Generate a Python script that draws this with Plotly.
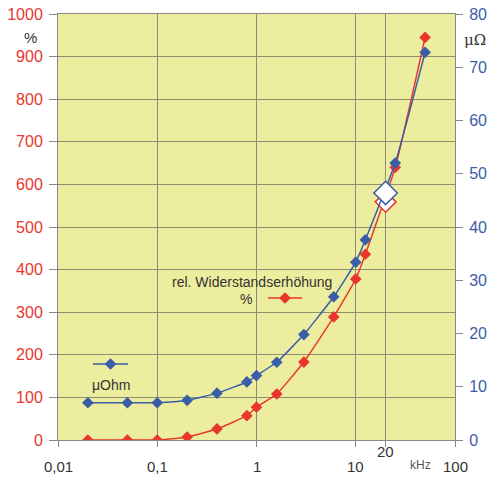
import plotly.graph_objects as go

freq_khz = [0.02, 0.05, 0.1, 0.2, 0.4, 0.8, 1, 1.6, 3, 6, 10, 12.5, 25, 50]
res_uohm = [7.0, 7.0, 7.0, 7.45, 8.8, 10.9, 12.1, 14.6, 19.8, 26.9, 33.4, 37.6, 52.0, 72.8]
rel_pct = [0, 0, 0, 7, 26, 57, 77, 108, 183, 289, 378, 436, 640, 945]

mark_freq = [20]
mark_uohm = [46.4]
mark_pct = [559]

x_tick_vals = [0.01, 0.1, 1, 10, 100]
x_tick_text = ["0,01", "0,1", "1", "10", "100"]
y_left_ticks = list(range(0, 1001, 100))
y_right_ticks = list(range(0, 81, 10))

BLUE = "#3A5DA8"
RED = "#E8362E"
GRID = "#8E8E70"
FONT = "Liberation Sans, Arial, sans-serif"

W, H = 491, 477
PL, PR, PT, PB = 58, 455, 14, 440          # plot area on screen
L, R, T, B = PL, W - PR, PT, H - PB


def px(x):
    return (x - PL) / (PR - PL)


def py(y):
    return (PB - y) / (PB - PT)


fig = go.Figure()

fig.add_trace(go.Scatter(
    x=freq_khz, y=rel_pct, mode="lines+markers",
    line=dict(color=RED, width=1.5, shape="spline", smoothing=0.4),
    marker=dict(symbol="diamond", size=9, color=RED),
    yaxis="y", showlegend=False))
fig.add_trace(go.Scatter(
    x=freq_khz, y=res_uohm, mode="lines+markers",
    line=dict(color=BLUE, width=1.5, shape="spline", smoothing=0.4),
    marker=dict(symbol="diamond", size=9, color=BLUE),
    yaxis="y2", showlegend=False))
fig.add_trace(go.Scatter(
    x=mark_freq, y=mark_pct, mode="markers",
    marker=dict(symbol="diamond", size=16, color="white", line=dict(color=RED, width=1.5)),
    yaxis="y", showlegend=False))
fig.add_trace(go.Scatter(
    x=mark_freq, y=mark_uohm, mode="markers",
    marker=dict(symbol="diamond", size=18, color="white", line=dict(color=BLUE, width=1.5)),
    yaxis="y2", showlegend=False))


def legend_sample(x0, x1, y, color):
    fig.add_shape(type="line", xref="paper", yref="paper", x0=x0, x1=x1, y0=y, y1=y,
                  line=dict(color=color, width=1.5))
    fig.add_trace(go.Scatter(x=[(x0 + x1) / 2], y=[y], xaxis="x2", yaxis="y3", mode="markers",
                             marker=dict(symbol="diamond", size=9, color=color),
                             showlegend=False, hoverinfo="skip"))


legend_sample(px(93), px(128), py(364), BLUE)
legend_sample(px(268), px(302), py(298), RED)

annotations = []
for i, t in enumerate(x_tick_text):
    annotations.append(dict(x=[-2, -1, 0, 1, 2][i], y=py(466), xref="x", yref="paper",
                            text=t, showarrow=False, font=dict(size=15, color="#333333", family=FONT),
                            xanchor="center", yanchor="middle"))
annotations += [
    dict(x=1.301, y=py(451), xref="x", yref="paper", text="20", showarrow=False,
         font=dict(size=15, color="#333333", family=FONT), xanchor="center", yanchor="middle"),
    dict(x=px(420), y=py(465), xref="paper", yref="paper", text="kHz", showarrow=False,
         font=dict(size=12, color="#555555", family=FONT), xanchor="center", yanchor="middle"),
    dict(x=px(30), y=py(37), xref="paper", yref="paper", text="%", showarrow=False,
         font=dict(size=15, color="#333333", family=FONT), xanchor="center", yanchor="middle"),
    dict(x=px(475), y=py(40), xref="paper", yref="paper", text="μΩ", showarrow=False,
         font=dict(size=15, color="#333333", family="DejaVu Serif, serif"), xanchor="center", yanchor="middle"),
    dict(x=px(111), y=py(385), xref="paper", yref="paper", text="μOhm", showarrow=False,
         font=dict(size=14, color="#333333", family=FONT), xanchor="center", yanchor="middle"),
    dict(x=px(252), y=py(282), xref="paper", yref="paper", text="rel. Widerstandserhöhung", showarrow=False,
         font=dict(size=14, color="#333333", family=FONT), xanchor="center", yanchor="middle"),
    dict(x=px(246), y=py(299), xref="paper", yref="paper", text="%", showarrow=False,
         font=dict(size=14, color="#333333", family=FONT), xanchor="center", yanchor="middle"),
]

fig.update_layout(
    width=W, height=H,
    margin=dict(l=L, r=R, t=T, b=B, pad=0, autoexpand=False),
    paper_bgcolor="white",
    plot_bgcolor="#EDED9F",
    font=dict(family=FONT, size=14),
    xaxis=dict(type="log", range=[-2, 2], tickvals=[0.01, 0.1, 1, 10, 20, 100],
               showticklabels=False, ticks="outside", ticklen=6, tickcolor="#888888",
               showgrid=True, gridcolor=GRID, gridwidth=1, automargin=False,
               showline=True, linecolor="#888888", mirror=True, zeroline=False),
    yaxis=dict(range=[0, 1000], tickvals=y_left_ticks, ticks="outside", ticklen=8,
               tickcolor="#888888", tickfont=dict(color=RED, size=16, family=FONT),
               showgrid=True, gridcolor=GRID, gridwidth=1, automargin=False,
               showline=True, linecolor="#888888", zeroline=False, ticklabelstandoff=3,
               ticklabeloverflow="allow"),
    yaxis2=dict(range=[0, 80], tickvals=y_right_ticks, overlaying="y", side="right",
                ticks="outside", ticklen=7, tickcolor="#888888",
                tickfont=dict(color=BLUE, size=16, family=FONT), automargin=False,
                showgrid=False, showline=True, linecolor="#888888", zeroline=False,
                ticklabelstandoff=3, ticklabeloverflow="allow"),
    xaxis2=dict(range=[0, 1], overlaying="x", visible=False),
    yaxis3=dict(range=[0, 1], overlaying="y", visible=False),
    annotations=annotations,
)

fig.write_html("out.html",
               config={"displayModeBar": False},
               post_script="document.body.style.margin='0';document.body.style.overflow='hidden';")
